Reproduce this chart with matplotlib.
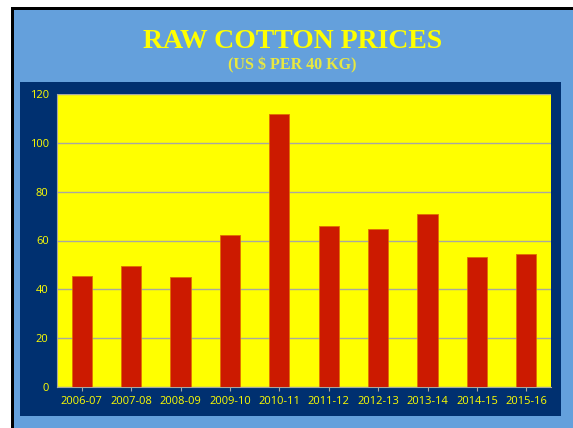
import matplotlib
matplotlib.use("Agg")
import matplotlib.pyplot as plt
from matplotlib.patches import Rectangle

categories = ["2006-07", "2007-08", "2008-09", "2009-10", "2010-11",
              "2011-12", "2012-13", "2013-14", "2014-15", "2015-16"]
prices = [45.5, 49.7, 45.0, 62.3, 111.9, 66.0, 64.7, 70.9, 53.3, 54.5]
yticks = [0, 20, 40, 60, 80, 100, 120]

W, H = 573, 428
fig = plt.figure(figsize=(W / 100, H / 100), dpi=100)
fig.patch.set_facecolor("white")

def rect(x0, y0, x1, y1, color, z):
    fig.patches.append(Rectangle((x0 / W, 1 - y1 / H), (x1 - x0) / W, (y1 - y0) / H,
                                 transform=fig.transFigure, facecolor=color,
                                 edgecolor="none", zorder=z))

rect(11, 7, W, H, "black", -3)
rect(14, 10, W, H, "#64A0DC", -2)
rect(20, 82, 561, 416, "#003070", -1)

ax = fig.add_axes([57 / W, 1 - 387 / H, (551 - 57) / W, (387 - 94) / H])
ax.set_zorder(5)
ax.set_facecolor("#FFFF00")
x = range(len(categories))
ax.bar(x, prices, width=0.41, color="#CC1A00", edgecolor="#E07000", linewidth=0.6, zorder=3)
ax.set_xlim(-0.5, len(categories) - 0.5)
ax.set_ylim(0, 120)
ax.set_yticks(yticks)
ax.set_xticks(list(x))
ax.set_xticklabels(categories)
ax.yaxis.grid(True, color="#A8A8A0", linewidth=1.0, zorder=1)
ax.set_axisbelow(True)
for s in ["top", "right"]:
    ax.spines[s].set_visible(False)
for s in ["left", "bottom"]:
    ax.spines[s].set_color("#A8A8A0")
ax.tick_params(axis="both", colors="#A8A8A0", labelcolor="#FFFF00", labelsize=8,
               length=3)
ax.tick_params(axis="y", length=0, pad=6)
for lab in ax.get_xticklabels() + ax.get_yticklabels():
    lab.set_family("Open Sans")

fig.text(0.51, 1 - 41 / H, "RAW COTTON PRICES", ha="center", va="center",
         family="Liberation Serif", fontweight="bold", fontsize=20, color="#FFFF00")
fig.text(0.51, 1 - 65 / H, "(US $ PER 40 KG)", ha="center", va="center",
         family="Liberation Serif", fontweight="bold", fontsize=11.5, color="#E8E840")

fig.savefig("out.png", dpi=100, facecolor=fig.get_facecolor())
